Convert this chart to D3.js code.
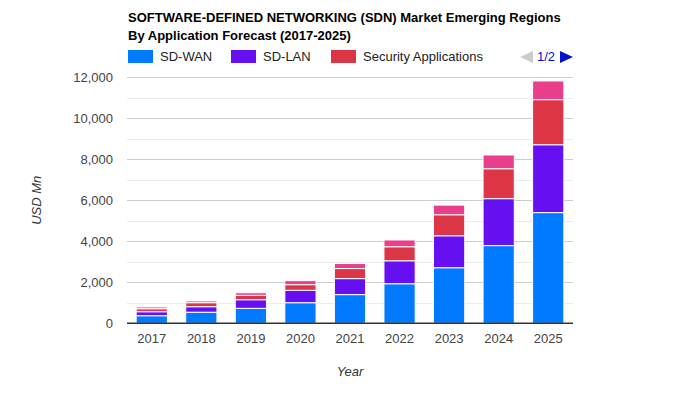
<!DOCTYPE html>
<html><head><meta charset="utf-8">
<script src="https://cdn.jsdelivr.net/npm/d3@7"></script>
<style>body{margin:0;background:#fff}svg{font-family:Arial,"Liberation Sans",sans-serif}</style>
</head><body><svg id="c" width="700" height="400"></svg>
<script>
const years = ["2017","2018","2019","2020","2021","2022","2023","2024","2025"];
const seriesNames = ["SD-WAN","SD-LAN","Security Applications","Others"];
const sdWan = [370,540,730,1005,1400,1930,2710,3790,5400];
const sdLan = [195,270,420,605,780,1120,1560,2290,3310];
const security = [145,195,215,275,490,685,1025,1460,2200];
const others = [85,85,125,195,245,330,470,670,910];
const colors = ["#007bff","#6610f2","#dc3545","#e83e8c"];
const yTicks = [0,2000,4000,6000,8000,10000,12000];
const minorTicks = [1000,3000,5000,7000,9000,11000];

const svg = d3.select("#c");
const L=127,R=573,T=77.3,B=323.3;
const x = d3.scaleBand().domain(years).range([L,R]).paddingInner(0.37).paddingOuter(0.185);
const y = d3.scaleLinear().domain([0,12000]).range([B,T]);

const rows = years.map((yr,i)=>({year:yr,"SD-WAN":sdWan[i],"SD-LAN":sdLan[i],"Security Applications":security[i],"Others":others[i]}));
const stacked = d3.stack().keys(seriesNames)(rows);

// gridlines
svg.append("g").selectAll("line").data(minorTicks).join("line")
  .attr("x1",L).attr("x2",R).attr("y1",d=>Math.round(y(d))+0.5).attr("y2",d=>Math.round(y(d))+0.5)
  .attr("stroke","#ebebeb");
svg.append("g").selectAll("line").data(yTicks.filter(d=>d>0)).join("line")
  .attr("x1",L).attr("x2",R).attr("y1",d=>Math.round(y(d))+0.5).attr("y2",d=>Math.round(y(d))+0.5)
  .attr("stroke","#cccccc");

// y axis labels
const yAxis = d3.axisLeft(y).tickValues(yTicks).tickSize(0).tickPadding(14).tickFormat(d3.format(","));
const ga = svg.append("g").attr("transform",`translate(${L},0)`).call(yAxis);
ga.select(".domain").remove();
ga.selectAll("text").attr("font-size",13).attr("fill","#444").attr("font-family","Arial");

// bars
svg.append("g").selectAll("g").data(stacked).join("g")
  .attr("fill",(d,i)=>colors[i])
  .selectAll("rect").data(d=>d).join("rect")
  .attr("x",d=>x(d.data.year)).attr("width",x.bandwidth())
  .attr("y",d=>y(d[1])).attr("height",d=>y(d[0])-y(d[1]))
  .attr("stroke","#fff").attr("stroke-width",1);

// baseline
svg.append("line").attr("x1",L).attr("x2",R).attr("y1",B).attr("y2",B).attr("stroke","#333").attr("stroke-width",1.5);

// x axis
const xAxis = d3.axisBottom(x).tickSize(0).tickPadding(10);
const gx = svg.append("g").attr("transform",`translate(0,${B})`).call(xAxis);
gx.select(".domain").remove();
gx.selectAll("text").attr("font-size",13).attr("fill","#444").attr("font-family","Arial");

// axis titles
svg.append("text").attr("x",(L+R)/2).attr("y",376).attr("text-anchor","middle")
  .attr("font-size",13).attr("font-style","italic").attr("fill","#333").text("Year");
svg.append("text").attr("transform",`translate(41,${(T+B)/2}) rotate(-90)`).attr("text-anchor","middle")
  .attr("font-size",13).attr("font-style","italic").attr("fill","#333").text("USD Mn");

// title
const title = svg.append("text").attr("font-size",13).attr("font-weight","bold").attr("fill","#000");
title.append("tspan").attr("x",128).attr("y",22).text("SOFTWARE-DEFINED NETWORKING (SDN) Market Emerging Regions");
title.append("tspan").attr("x",128).attr("y",40).text("By Application Forecast (2017-2025)");

// legend
const legX = [128,231,331];
seriesNames.slice(0,3).forEach((n,i)=>{
  svg.append("rect").attr("x",legX[i]).attr("y",50).attr("width",25).attr("height",13).attr("fill",colors[i]);
  svg.append("text").attr("x",legX[i]+32).attr("y",61).attr("font-size",13).attr("fill","#222").text(n);
});
// pager
svg.append("path").attr("d","M533,51 L533,63 L520,57 Z").attr("fill","#ccc");
svg.append("text").attr("x",546).attr("y",61).attr("text-anchor","middle").attr("font-size",13).attr("fill","#0011cc").text("1/2");
svg.append("path").attr("d","M560,51 L560,63 L573,57 Z").attr("fill","#0011cc");
</script></body></html>
